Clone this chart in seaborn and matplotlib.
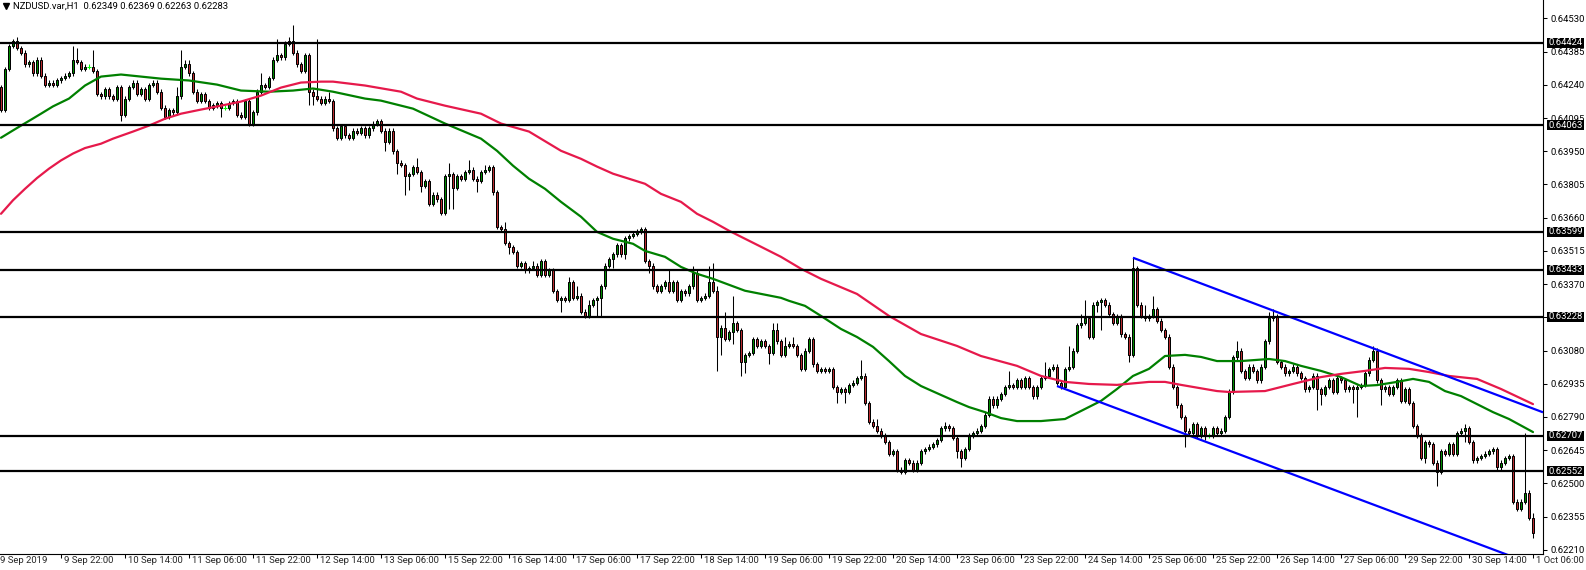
import numpy as np
import matplotlib
matplotlib.use("Agg")
import matplotlib.pyplot as plt
import matplotlib.transforms as mtrans
from matplotlib import font_manager
from matplotlib.patches import Rectangle
from matplotlib.lines import Line2D
import seaborn as sns

# NZDUSD H1 bars, prices in pips (x 1e-4). open of a bar = close of the bar before
first_open = 6423
closes = [
    6413, 6431, 6441, 6443, 6440, 6438, 6433, 6434, 6429, 6435, 6428, 6424, 6425, 6424, 6426, 6427, 6428, 6429, 6435, 6434,
    6431, 6432, 6432, 6430, 6420, 6419, 6422, 6419, 6418, 6423, 6411, 6418, 6423, 6425, 6420, 6422, 6418, 6424, 6425, 6421,
    6414, 6410, 6413, 6412, 6419, 6432, 6433, 6429, 6421, 6417, 6420, 6417, 6414, 6415, 6416, 6414, 6414, 6416, 6417, 6411,
    6410, 6417, 6407, 6412, 6421, 6424, 6423, 6427, 6435, 6437, 6436, 6442, 6443, 6438, 6433, 6430, 6437, 6421, 6419, 6418,
    6416, 6418, 6417, 6405, 6401, 6406, 6402, 6401, 6404, 6403, 6405, 6402, 6405, 6407, 6408, 6404, 6399, 6404, 6395, 6390,
    6389, 6384, 6385, 6388, 6386, 6380, 6382, 6372, 6376, 6374, 6368, 6384, 6385, 6379, 6384, 6383, 6386, 6387, 6383, 6382,
    6386, 6387, 6388, 6377, 6362, 6361, 6355, 6353, 6351, 6345, 6346, 6343, 6344, 6345, 6341, 6347, 6341, 6343, 6334, 6330,
    6331, 6330, 6338, 6331, 6332, 6325, 6323, 6328, 6330, 6331, 6336, 6345, 6348, 6350, 6354, 6350, 6357, 6358, 6359, 6360,
    6361, 6347, 6345, 6336, 6334, 6336, 6338, 6334, 6338, 6330, 6334, 6333, 6336, 6342, 6330, 6331, 6332, 6338, 6334, 6314,
    6318, 6313, 6316, 6320, 6317, 6303, 6306, 6307, 6313, 6310, 6312, 6310, 6307, 6317, 6312, 6306, 6310, 6311, 6310, 6306,
    6300, 6308, 6313, 6302, 6299, 6300, 6299, 6300, 6292, 6290, 6291, 6290, 6293, 6294, 6296, 6297, 6285, 6277, 6275, 6273,
    6271, 6268, 6263, 6264, 6256, 6255, 6260, 6259, 6256, 6259, 6264, 6265, 6266, 6267, 6269, 6274, 6275, 6274, 6270, 6264,
    6261, 6265, 6271, 6272, 6273, 6275, 6280, 6287, 6284, 6287, 6289, 6292, 6293, 6292, 6295, 6292, 6296, 6292, 6288, 6292,
    6296, 6297, 6300, 6301, 6294, 6292, 6300, 6301, 6308, 6319, 6320, 6322, 6314, 6328, 6329, 6330, 6328, 6324, 6320, 6323,
    6315, 6314, 6306, 6344, 6328, 6323, 6322, 6323, 6326, 6321, 6317, 6314, 6301, 6292, 6284, 6279, 6273, 6272, 6276, 6271,
    6274, 6271, 6271, 6274, 6272, 6273, 6279, 6290, 6305, 6308, 6299, 6296, 6301, 6299, 6295, 6301, 6312, 6322, 6323, 6303,
    6301, 6298, 6299, 6301, 6298, 6296, 6291, 6292, 6297, 6291, 6289, 6292, 6295, 6290, 6296, 6295, 6291, 6292, 6291, 6292,
    6293, 6298, 6304, 6308, 6295, 6291, 6292, 6289, 6292, 6295, 6286, 6291, 6285, 6275, 6271, 6261, 6268, 6267, 6259, 6255,
    6264, 6263, 6267, 6263, 6272, 6273, 6274, 6268, 6260, 6261, 6262, 6263, 6264, 6265, 6257, 6259, 6261, 6262, 6242, 6239,
    6242, 6246, 6234.9, 6228.3,
]
# upper / lower shadow length beyond the body, pips
wick_up = [
    1, 1, 1, 1, 2, 1, 1, 1, 1, 1, 1, 1, 1, 1, 1, 1, 1, 1, 6, 5,
    1, 1, 1, 7, 1, 1, 1, 1, 1, 1, 1, 1, 1, 1, 1, 1, 1, 1, 1, 1,
    1, 1, 1, 1, 4, 7, 2, 2, 1, 1, 1, 1, 1, 1, 1, 1, 1, 1, 1, 1,
    1, 1, 1, 1, 1, 5, 1, 1, 1, 7, 1, 1, 2, 7, 1, 1, 1, 1, 1, 25,
    1, 1, 3, 1, 1, 1, 1, 1, 1, 1, 1, 1, 1, 1, 1, 1, 1, 1, 1, 1,
    1, 1, 1, 1, 4, 1, 1, 1, 1, 1, 1, 1, 5, 1, 1, 1, 1, 4, 1, 1,
    1, 2, 1, 1, 1, 1, 3, 1, 1, 1, 1, 1, 1, 2, 1, 1, 1, 1, 1, 1,
    1, 1, 2, 1, 4, 1, 1, 2, 1, 1, 1, 1, 1, 1, 1, 1, 1, 1, 1, 1,
    1, 1, 1, 1, 1, 1, 1, 5, 1, 1, 1, 1, 1, 3, 1, 1, 1, 7, 8, 2,
    1, 7, 1, 12, 1, 1, 1, 1, 1, 1, 1, 1, 1, 3, 3, 1, 4, 1, 3, 1,
    1, 1, 1, 1, 1, 1, 1, 1, 1, 1, 1, 1, 1, 1, 1, 7, 1, 1, 1, 3,
    1, 1, 1, 1, 1, 1, 1, 1, 1, 1, 1, 1, 1, 1, 1, 1, 2, 1, 1, 1,
    1, 1, 1, 1, 1, 1, 1, 1, 1, 1, 1, 1, 6, 1, 1, 1, 1, 1, 1, 1,
    1, 6, 1, 1, 1, 1, 1, 9, 1, 1, 4, 8, 1, 1, 1, 1, 1, 1, 1, 1,
    1, 1, 1, 5, 1, 1, 5, 1, 6, 1, 1, 1, 1, 1, 1, 1, 1, 1, 1, 1,
    1, 1, 1, 1, 1, 1, 1, 1, 1, 4, 1, 1, 1, 1, 1, 1, 1, 3, 3, 1,
    1, 1, 1, 1, 1, 1, 1, 1, 1, 1, 1, 1, 1, 1, 1, 1, 1, 1, 1, 1,
    1, 1, 1, 2, 1, 1, 1, 1, 1, 1, 1, 1, 1, 1, 1, 1, 1, 1, 1, 1,
    1, 1, 1, 1, 1, 1, 2, 1, 1, 1, 1, 1, 1, 1, 1, 1, 1, 1, 1, 1,
    1, 26, 1, 2,
]
wick_dn = [
    1, 1, 1, 1, 1, 1, 1, 1, 1, 1, 1, 1, 1, 1, 1, 1, 1, 1, 1, 1,
    1, 1, 1, 1, 1, 1, 1, 1, 1, 1, 3, 1, 1, 1, 1, 1, 1, 1, 1, 1,
    1, 1, 1, 1, 1, 1, 1, 1, 1, 1, 1, 1, 1, 1, 1, 4, 1, 1, 1, 1,
    1, 1, 1, 1, 1, 1, 1, 1, 1, 1, 1, 1, 1, 1, 1, 1, 1, 6, 4, 1,
    1, 1, 1, 1, 1, 1, 1, 1, 1, 1, 1, 1, 1, 1, 1, 1, 4, 1, 1, 5,
    1, 8, 6, 1, 1, 3, 1, 1, 1, 1, 1, 1, 14, 9, 1, 1, 1, 1, 1, 5,
    1, 1, 1, 1, 1, 1, 1, 3, 1, 1, 1, 1, 1, 1, 1, 1, 1, 1, 1, 1,
    5, 1, 1, 1, 1, 1, 1, 1, 1, 7, 8, 1, 1, 4, 1, 1, 2, 1, 1, 1,
    1, 1, 3, 1, 1, 1, 1, 1, 1, 1, 1, 1, 1, 1, 1, 1, 1, 1, 1, 15,
    8, 1, 1, 5, 1, 6, 5, 1, 1, 1, 1, 1, 5, 1, 1, 1, 1, 1, 1, 1,
    1, 1, 1, 1, 1, 1, 1, 1, 1, 5, 1, 5, 1, 1, 1, 1, 1, 1, 1, 1,
    1, 1, 1, 1, 1, 1, 1, 1, 1, 1, 1, 1, 1, 1, 1, 1, 1, 1, 1, 3,
    4, 1, 1, 1, 1, 1, 1, 1, 1, 1, 1, 1, 1, 1, 1, 1, 1, 1, 1, 1,
    1, 1, 1, 1, 1, 1, 1, 1, 1, 1, 1, 1, 1, 1, 3, 12, 1, 1, 1, 1,
    1, 1, 3, 1, 1, 1, 1, 1, 1, 1, 1, 1, 1, 1, 1, 1, 7, 1, 1, 1,
    1, 2, 1, 1, 1, 1, 1, 1, 1, 1, 1, 1, 1, 1, 1, 1, 1, 1, 1, 1,
    1, 1, 1, 1, 1, 1, 1, 1, 1, 9, 5, 1, 1, 1, 1, 1, 1, 1, 6, 12,
    1, 1, 1, 1, 1, 7, 1, 1, 1, 1, 1, 1, 1, 1, 1, 1, 2, 1, 1, 6,
    1, 1, 1, 1, 1, 1, 5, 1, 1, 1, 1, 1, 1, 1, 1, 1, 1, 1, 1, 1,
    1, 1, 1, 2,
]

# moving averages (bar index, pips)
ma_fast_bar = [0, 3, 5, 8, 10, 13, 17, 21, 25, 30, 35, 40, 47, 54, 60, 67, 73, 78, 83, 91, 95, 103, 111,
               120, 124, 128, 132, 136, 140, 145, 149, 153, 158, 161, 166, 170, 174, 178, 186, 195, 197, 201, 205,
               210, 214, 218, 222, 226, 230, 235, 239, 242, 246, 250, 254, 260, 266, 270, 275, 279, 283, 287, 291,
               296, 300, 304, 310, 317, 321, 325, 330, 335, 340, 344, 349, 353, 357, 361, 365, 369, 373, 377, 383]
ma_fast = [6400.9, 6404.1, 6406.2, 6409.3, 6411.4, 6414.6, 6418.0, 6423.7, 6427.6, 6428.5, 6427.6, 6426.7, 6425.9,
           6424.1, 6421.5, 6421.0, 6421.5, 6422.4, 6421.0, 6418.0, 6417.1, 6413.6, 6407.1,
           6400.5, 6395.2, 6388.7, 6383.0, 6378.6, 6372.9, 6366.4, 6359.8, 6356.8, 6354.6,
           6351.5, 6348.9, 6344.5, 6341.5, 6339.3, 6334.1, 6331.0, 6329.7, 6327.5, 6323.1,
           6317.4, 6313.9, 6309.6, 6303.4, 6296.9, 6292.5, 6288.6, 6285.5, 6283.3, 6281.1,
           6278.5, 6277.2, 6277.2, 6278.1, 6281.6, 6286.0, 6291.2, 6296.9, 6300.0, 6305.6,
           6306.1, 6305.2, 6303.4, 6303.4, 6304.3, 6303.4, 6301.3, 6299.1, 6296.4, 6292.5,
           6292.9, 6294.3, 6295.6, 6294.3, 6290.3, 6288.1, 6284.6, 6281.1, 6278.1, 6272.4]
ma_slow_bar = [0, 3, 6, 9, 12, 15, 18, 21, 25, 28, 33, 37, 41, 45, 50, 55, 60, 65, 70, 75, 80, 83, 91, 100,
               104, 111, 120, 125, 132, 140, 145, 149, 153, 157, 161, 165, 170, 174, 178, 182, 186, 190, 195, 200,
               205, 214, 222, 230, 239, 245, 254, 260, 266, 272, 279, 287, 291, 295, 304, 307, 316, 323, 330, 335,
               341, 346, 352, 357, 362, 369, 375, 383]
ma_slow = [6367.7, 6373.6, 6378.6, 6383.3, 6387.4, 6391.0, 6394.0, 6396.4, 6398.3, 6400.5, 6403.6, 6406.2, 6409.2, 6411.4,
           6413.2, 6414.9, 6416.7, 6419.3, 6422.8, 6425.0, 6425.4, 6425.4, 6423.7, 6421.0,
           6418.0, 6414.9, 6411.4, 6407.1, 6403.6, 6395.2, 6391.7, 6388.3, 6385.2, 6383.0,
           6380.8, 6376.4, 6372.9, 6367.7, 6364.2, 6360.3, 6356.8, 6353.3, 6348.9, 6343.7,
           6339.3, 6332.7, 6323.1, 6315.2, 6310.0, 6305.6, 6301.3, 6296.9, 6294.3, 6293.4,
           6293.0, 6294.3, 6294.3, 6293.0, 6290.3, 6289.9, 6290.3, 6293.4, 6296.4, 6297.8,
           6299.1, 6300.4, 6300.0, 6298.6, 6296.9, 6295.6, 6291.2, 6284.6]

levels = [0.64424, 0.64063, 0.63599, 0.63433, 0.63228, 0.62707, 0.62552]

# channel rays: two anchor points each (bar, price)
chan_upper = [(283, 0.63485), (343, 0.63090)]
chan_lower = [(264, 0.62925), (343, 0.62408)]

price_ticks = [0.64530, 0.64385, 0.64240, 0.64095, 0.63950, 0.63805, 0.63660, 0.63515, 0.63370,
               0.63225, 0.63080, 0.62935, 0.62790, 0.62645, 0.62500, 0.62355, 0.62210]
time_labels = ["9 Sep 2019", "9 Sep 22:00", "10 Sep 14:00", "11 Sep 06:00", "11 Sep 22:00",
               "12 Sep 14:00", "13 Sep 06:00", "15 Sep 22:00", "16 Sep 14:00", "17 Sep 06:00",
               "17 Sep 22:00", "18 Sep 14:00", "19 Sep 06:00", "19 Sep 22:00", "20 Sep 14:00",
               "23 Sep 06:00", "23 Sep 22:00", "24 Sep 14:00", "25 Sep 06:00", "25 Sep 22:00",
               "26 Sep 14:00", "27 Sep 06:00", "29 Sep 22:00", "30 Sep 14:00", "1 Oct 06:00"]
title = "NZDUSD.var,H1  0.62349 0.62369 0.62263 0.62283"

sns.set_style("white")
installed = {f.name for f in font_manager.fontManager.ttflist}
if "Liberation Sans Narrow" in installed:
    font_name, font_size = "Liberation Sans Narrow", 8.2
else:
    font_name, font_size = "Roboto", 6.8
plt.rcParams["font.family"] = [font_name, "DejaVu Sans"]
plt.rcParams["font.size"] = font_size

# build OHLC
c = np.array(closes, dtype=float) / 1e4
o = np.concatenate([[first_open / 1e4], c[:-1]])
h = np.maximum(o, c) + np.array(wick_up) / 1e4
l = np.minimum(o, c) - np.array(wick_dn) / 1e4
x = np.arange(len(c))

W, H = 1586, 570
fig = plt.figure(figsize=(W / 100, H / 100), dpi=100)
ax = fig.add_axes([0, 16 / H, 1543 / W, 554 / H])
y_top, y_bot = 0.646104, 0.621916
ax.set_xlim(-0.25, 385.5)
ax.set_ylim(y_bot, y_top)

bull = c > o
bear = c < o
doji = c == o
ax.vlines(x[~doji], l[~doji], h[~doji], color="black", lw=0.75, zorder=3)
ax.bar(x[bull], (c - o)[bull], bottom=o[bull], width=0.5, color="#008a00",
       edgecolor="black", linewidth=0.72, zorder=4)
ax.bar(x[bear], (o - c)[bear], bottom=c[bear], width=0.5, color="#b82a2e",
       edgecolor="black", linewidth=0.72, zorder=4)
ax.vlines(x[doji], l[doji], h[doji], color="#00ff00", lw=0.75, zorder=4)
ax.hlines(c[doji], x[doji] - 0.4, x[doji] + 0.4, color="#00ff00", lw=0.75, zorder=4)

# moving averages
sns.lineplot(x=ma_fast_bar, y=np.array(ma_fast) / 1e4, color="#008000", lw=1.6, ax=ax, zorder=5)
sns.lineplot(x=ma_slow_bar, y=np.array(ma_slow) / 1e4, color="#e6194b", lw=1.6, ax=ax, zorder=5)

# channel rays, extended to the right edge
x_end = ax.get_xlim()[1]
for (x1, y1), (x2, y2) in [chan_upper, chan_lower]:
    k = (y2 - y1) / (x2 - x1)
    ax.plot([x1, x_end], [y1, y1 + k * (x_end - x1)], color="#0000ff", lw=1.6, zorder=6,
            solid_capstyle="butt")

for lv in levels:
    ax.axhline(lv, color="black", lw=1.6, zorder=6)

# axes look
for side in ["left", "top"]:
    ax.spines[side].set_visible(False)
for side in ["right", "bottom"]:
    ax.spines[side].set_color("black")
    ax.spines[side].set_linewidth(0.8)

ax.yaxis.tick_right()
ax.set_yticks(price_ticks)
ax.set_yticklabels([f"{t:.5f}" for t in price_ticks])
ax.tick_params(axis="y", right=True, left=False, labelright=True, labelleft=False,
               length=3, width=0.75, pad=2.5, colors="black")

label_bars = [-1 + 16 * k for k in range(len(time_labels))]
ax.set_xticks(label_bars)
ax.tick_params(axis="x", bottom=True, labelbottom=False, length=3, width=0.75, colors="black")
ax.set_xlim(-0.25, 385.5)
xtrans = mtrans.blended_transform_factory(ax.transData, ax.transAxes) + \
    mtrans.ScaledTranslation(3 / 100, -2 / 100, fig.dpi_scale_trans)
for b, lab in zip(label_bars, time_labels):
    ax.text(b, 0, lab, transform=xtrans, ha="left", va="top", clip_on=False)

# black price boxes for the horizontal levels
px = (y_top - y_bot) / 554
btrans = mtrans.blended_transform_factory(fig.transFigure, ax.transData)
for lv in levels:
    ax.add_patch(Rectangle((1547 / W, lv - 5 * px), 37 / W, 10 * px, transform=btrans,
                           facecolor="black", edgecolor="none", clip_on=False, zorder=10))
    ax.text(1565.5 / W, lv, f"{lv:.5f}", transform=btrans, color="white", ha="center",
            va="center", clip_on=False, zorder=11)

ax.set_xlabel("")
ax.set_ylabel("")
ax.grid(False)

# title in the corner
fig.add_artist(Line2D([6 / W], [1 - 6 / H], marker="v", markersize=4, color="black",
                      transform=fig.transFigure))
fig.text(13 / W, 1 - 6 / H, title, ha="left", va="center", color="black")

fig.savefig("out.png", dpi=100)
